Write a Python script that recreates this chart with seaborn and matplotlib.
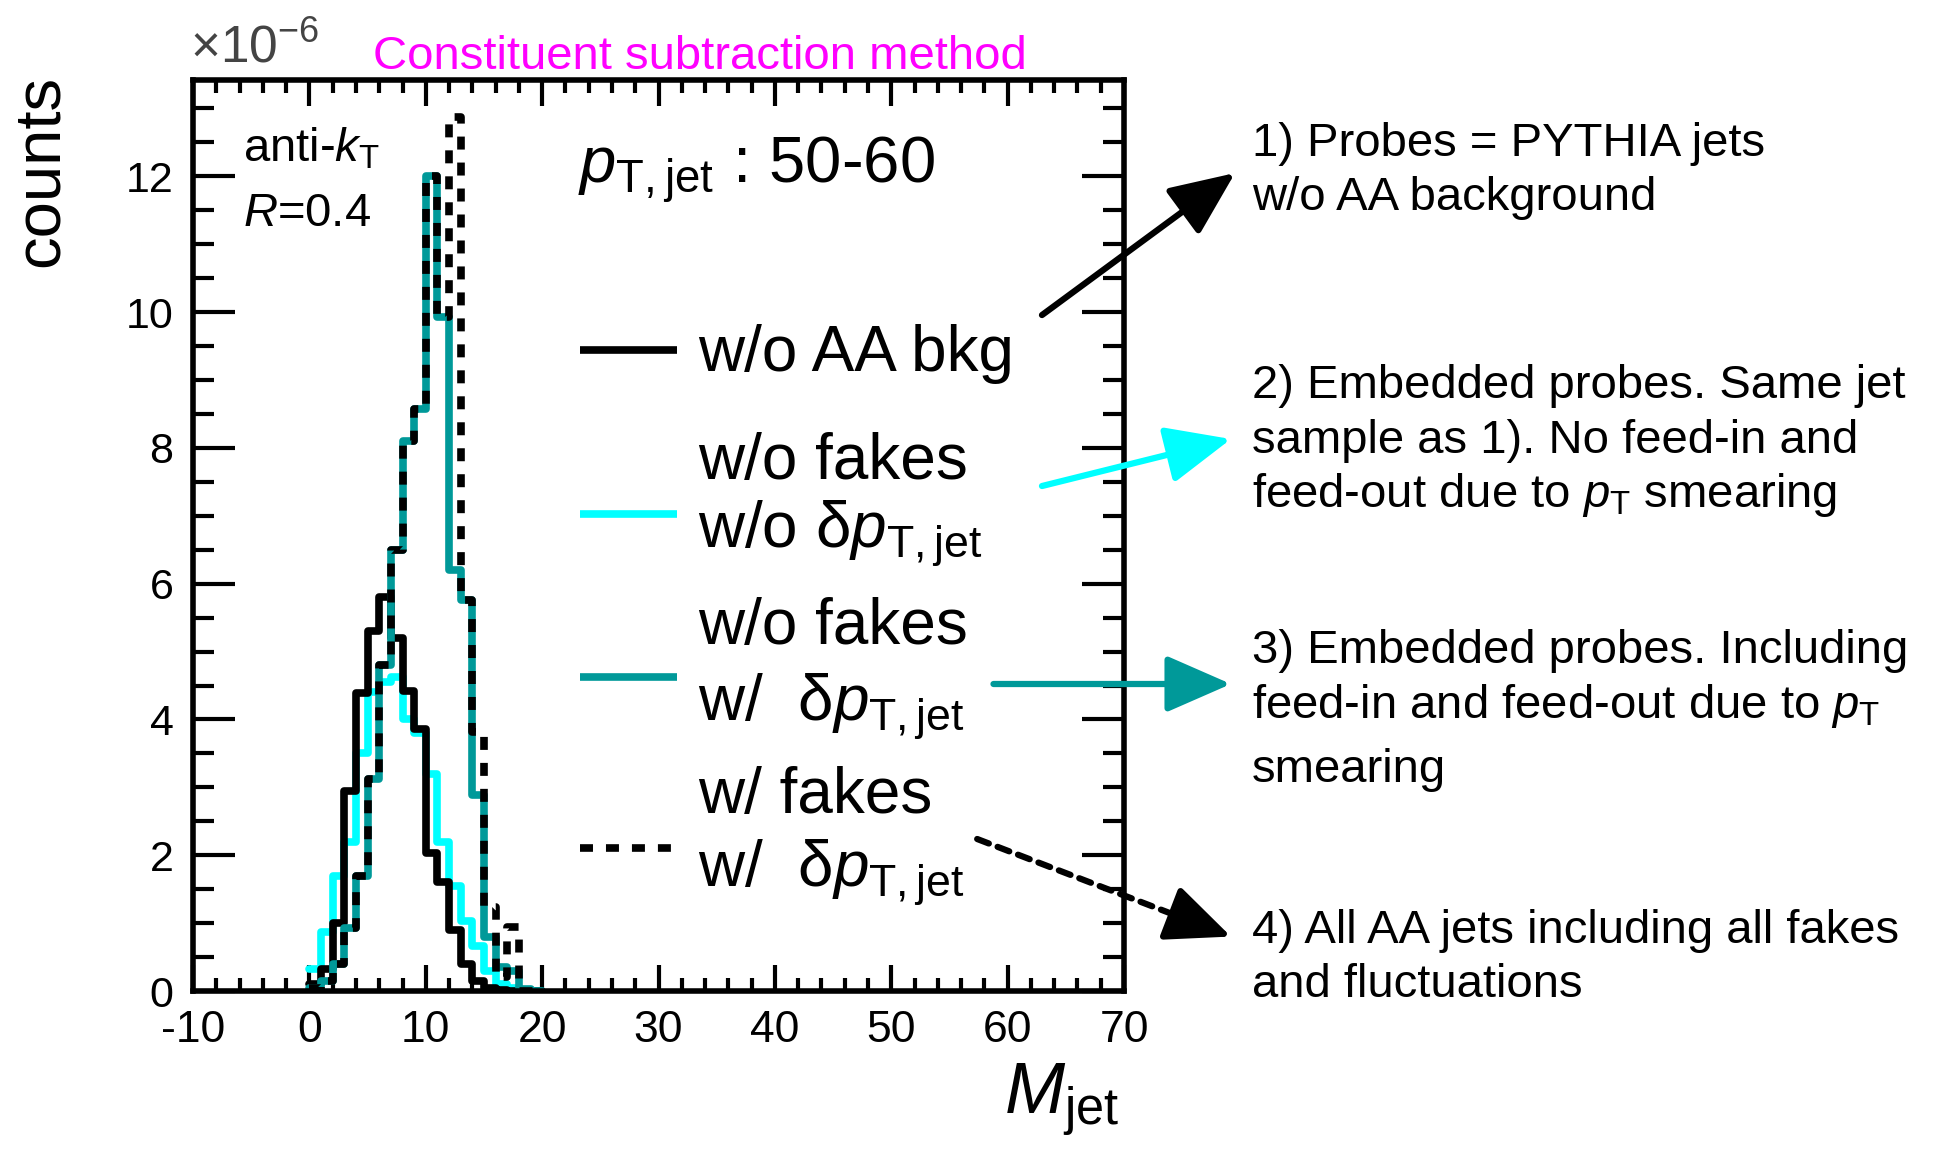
import numpy as np
import matplotlib
matplotlib.use('Agg')
import matplotlib.pyplot as plt
import seaborn as sns
from matplotlib.ticker import MultipleLocator

# Jet mass histograms, 1 GeV bins from 0 to 20, contents in units of 1e-6 counts
bin_edges = list(range(0, 21))
no_bkg = [0.10, 0.33, 1.00, 2.95, 4.39, 5.31, 5.80, 5.20, 4.42, 3.86,
          2.03, 1.60, 0.90, 0.40, 0.15, 0.05, 0.02, 0.0, 0.0, 0.0]
no_fakes_no_dpt = [0.33, 0.87, 1.70, 2.20, 3.50, 4.40, 4.55, 4.62, 4.00, 3.80,
                   3.20, 2.20, 1.55, 1.03, 0.66, 0.30, 0.10, 0.05, 0.0, 0.0]
no_fakes_dpt = [0.05, 0.15, 0.40, 0.93, 1.70, 3.13, 4.80, 6.50, 8.10, 8.57,
                12.00, 9.93, 6.20, 5.76, 2.88, 0.80, 0.35, 0.30, 0.03, 0.0]
fakes_dpt = [0.05, 0.15, 0.40, 0.93, 1.70, 3.13, 4.80, 6.50, 8.10, 8.57,
             12.00, 9.93, 12.87, 5.76, 3.81, 1.24, 0.20, 0.95, 0.0, 0.0]

x_ticks = [-10, 0, 10, 20, 30, 40, 50, 60, 70]
y_ticks = [0, 2, 4, 6, 8, 10, 12]

cyan = '#00ffff'
teal = '#009999'

notes = [
    ["1) Probes = PYTHIA jets", "w/o AA background"],
    ["2) Embedded probes. Same jet", "sample as 1). No feed-in and",
     r"feed-out due to $p_{\rm T}$ smearing"],
    ["3) Embedded probes. Including", r"feed-in and feed-out due to $p_{\rm T}$",
     "smearing"],
    ["4) All AA jets including all fakes", "and fluctuations"],
]

sns.set_style('ticks')
plt.rcParams['font.family'] = ['Liberation Sans', 'DejaVu Sans']
plt.rcParams['mathtext.fontset'] = 'custom'
plt.rcParams['mathtext.rm'] = 'Liberation Sans'
plt.rcParams['mathtext.it'] = 'Liberation Sans:italic'
plt.rcParams['mathtext.bf'] = 'Liberation Sans:bold'
plt.rcParams['axes.unicode_minus'] = False
for key in ['text.color', 'axes.labelcolor', 'xtick.color', 'ytick.color', 'axes.edgecolor']:
    plt.rcParams[key] = 'black'

fig = plt.figure(figsize=(19.4, 11.49), dpi=100)
ax = fig.add_axes([0.0995, 0.1375, 0.4799, 0.7929])

centers = np.array(bin_edges[:-1]) + 0.5
dash = (0, (1.7, 1.7))
series = [
    (no_fakes_no_dpt, cyan, '-'),
    (no_bkg, 'black', '-'),
    (no_fakes_dpt, teal, '-'),
    (fakes_dpt, 'black', dash),
]
for vals, col, ls in series:
    sns.histplot(x=centers, weights=vals, bins=bin_edges, element='step',
                 fill=False, color=col, linewidth=5.5, linestyle=ls, ax=ax)

ax.set_xlim(-10, 70)
ax.set_ylim(0, 13.42)
ax.set_xticks(x_ticks)
ax.set_yticks(y_ticks)
ax.xaxis.set_minor_locator(MultipleLocator(2))
ax.yaxis.set_minor_locator(MultipleLocator(0.5))
ax.tick_params(axis='x', which='major', length=19, width=3, direction='in',
               top=True, labelsize=32, pad=14)
ax.tick_params(axis='x', which='minor', length=9.5, width=3, direction='in', top=True)
ax.tick_params(axis='y', which='major', length=30, width=3, direction='in',
               right=True, labelsize=31, pad=14)
ax.tick_params(axis='y', which='minor', length=15, width=3, direction='in', right=True)
for s in ax.spines.values():
    s.set_linewidth(4)
    s.set_color('black')
ax.set_xlabel('')
ax.set_ylabel('')

# axis titles
fig.text(0.021, 0.935, 'counts', rotation=90, fontsize=47, ha='center', va='top')
fig.text(0.577, 0.031, r'$M_{\rm jet}$', fontsize=52, ha='right', va='baseline')
fig.text(0.098, 0.946, r'$\times10^{-6}$', fontsize=37, color='#444444', va='baseline')
fig.text(0.361, 0.9397, 'Constituent subtraction method', fontsize=34,
         color='#ff00ff', ha='center', va='baseline')

# labels inside the frame
ax.text(0.0532, 0.925, r'anti-$k_{\rm T}$', fontsize=34, transform=ax.transAxes, va='center')
ax.text(0.0532, 0.853, r'$R$=0.4', fontsize=34, transform=ax.transAxes, va='center')
ax.text(0.4136, 0.886, r'$p_{\rm T,jet}$ : 50-60', fontsize=47, transform=ax.transAxes,
        va='baseline')

# legend drawn by hand
leg_lines = [(0.704, 'black', '-'), (0.524, cyan, '-'), (0.345, teal, '-'), (0.157, 'black', dash)]
for yy, col, ls in leg_lines:
    ax.plot([0.416, 0.520], [yy, yy], transform=ax.transAxes, color=col,
            linewidth=5.5, linestyle=ls, solid_capstyle='butt')
leg_text = [
    (0.681, 'w/o AA bkg'),
    (0.5617, 'w/o fakes'), (0.487, r'w/o δ$p_{\rm T,jet}$'),
    (0.381, 'w/o fakes'), (0.297, r'w/  δ$p_{\rm T,jet}$'),
    (0.195, 'w/ fakes'), (0.114, r'w/  δ$p_{\rm T,jet}$'),
]
for yy, txt in leg_text:
    ax.text(0.5426, yy, txt, fontsize=46, transform=ax.transAxes, va='baseline')

# notes on the right
note_y = [[0.8643, 0.8170], [0.6533, 0.6059, 0.5585], [0.4229, 0.3754, 0.3195], [0.1795, 0.1321]]
for lines, ys in zip(notes, note_y):
    for txt, yy in zip(lines, ys):
        fig.text(0.6454, yy, txt, fontsize=34, va='baseline')

arrows = [
    ((0.5371, 0.7258), (0.6366, 0.8494), 'black', '-'),
    ((0.5371, 0.5770), (0.6345, 0.6179), cyan, '-'),
    ((0.5121, 0.4047), (0.6345, 0.4047), teal, '-'),
    ((0.5037, 0.2698), (0.6345, 0.1849), 'black', (0, (2, 1.5))),
]
arrow_style = '-|>,head_length=1.6,head_width=0.7'
for tail, head, col, ls in arrows:
    if ls == '-':
        ax.annotate('', xy=head, xycoords='figure fraction', xytext=tail,
                    textcoords='figure fraction', annotation_clip=False,
                    arrowprops=dict(arrowstyle=arrow_style, mutation_scale=25,
                                    color=col, lw=4.5, shrinkA=0, shrinkB=0))
    else:
        # dashed shaft, solid head
        ax.annotate('', xy=head, xycoords='figure fraction', xytext=tail,
                    textcoords='figure fraction', annotation_clip=False,
                    arrowprops=dict(arrowstyle='-', color=col, lw=4.5, linestyle=ls,
                                    shrinkA=0, shrinkB=30))
        back = (head[0] - 0.12 * (head[0] - tail[0]), head[1] - 0.12 * (head[1] - tail[1]))
        ax.annotate('', xy=head, xycoords='figure fraction', xytext=back,
                    textcoords='figure fraction', annotation_clip=False,
                    arrowprops=dict(arrowstyle=arrow_style, mutation_scale=25,
                                    color=col, lw=4.5, shrinkA=0, shrinkB=0))

fig.savefig('out.png', dpi=100)
